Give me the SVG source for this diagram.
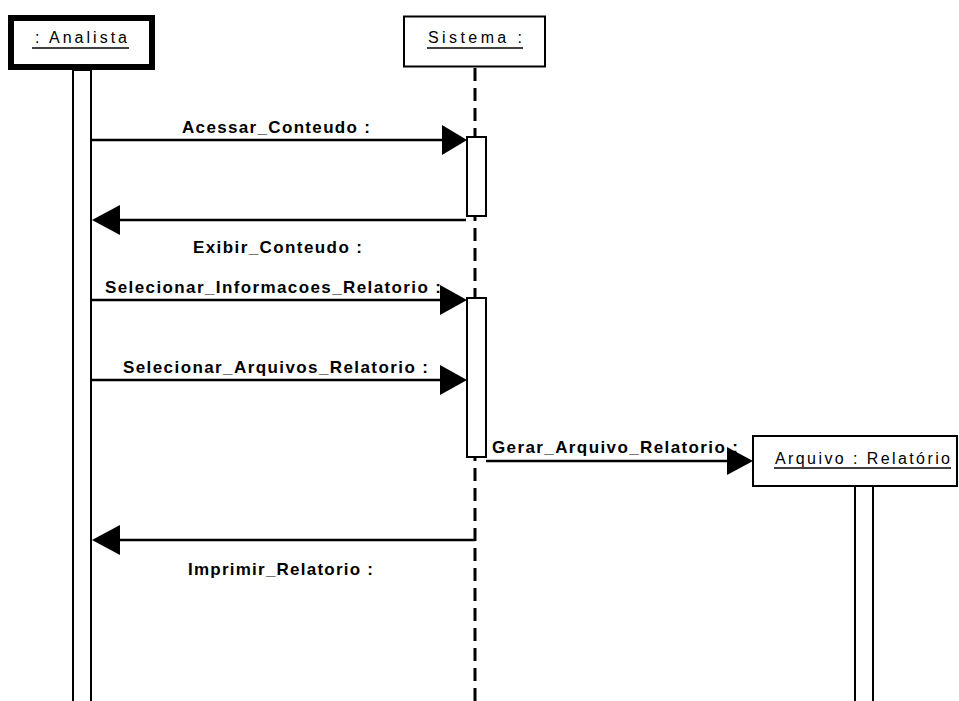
<svg xmlns="http://www.w3.org/2000/svg" width="959" height="701" viewBox="0 0 959 701">
  <style>
    .box { fill: #ffffff; stroke: #000000; stroke-width: 2; }
    .actor { fill: #ffffff; stroke: #000000; stroke-width: 6; }
    .bar { fill: #ffffff; stroke: #000000; stroke-width: 2; }
    .life { stroke: #000000; stroke-width: 3; stroke-dasharray: 13 7; fill: none; }
    .msg { stroke: #000000; stroke-width: 2.5; fill: none; }
    .head { fill: #000000; stroke: none; }
    .title { font-family: "Liberation Sans", Arial, sans-serif; font-size: 16px; fill: #000000; }
    .uline { stroke: #000000; stroke-width: 1.5; }
    .label { font-family: "Liberation Sans", Arial, sans-serif; font-size: 17px; font-weight: bold; fill: #000000; }
  </style>
  <rect width="959" height="701" fill="#ffffff"/>

  <!-- lifelines and activation bars -->
  <g id="lifelines">
    <line class="life" x1="475" y1="68" x2="475" y2="701"/>
    <rect class="bar" x="73" y="70" width="18" height="640"/>
    <rect class="bar" x="467" y="137" width="19" height="79"/>
    <rect class="bar" x="467" y="298" width="19" height="159"/>
    <rect class="bar" x="855" y="486" width="18" height="224"/>
  </g>

  <!-- objects -->
  <g id="analista">
    <rect class="actor" x="11" y="18" width="141" height="49"/>
    <text class="title" x="35" y="43" textLength="92" lengthAdjust="spacing">: Analista</text>
    <line class="uline" x1="32" y1="48" x2="129" y2="48"/>
  </g>
  <g id="sistema">
    <rect class="box" x="404" y="16.5" width="141" height="50"/>
    <text class="title" x="428" y="43" textLength="94" lengthAdjust="spacing">Sistema :</text>
    <line class="uline" x1="427" y1="48" x2="523" y2="48"/>
  </g>
  <g id="arquivo">
    <rect class="box" x="753" y="436" width="204" height="50"/>
    <text class="title" x="775" y="464" textLength="175" lengthAdjust="spacing">Arquivo : Relatório</text>
    <line class="uline" x1="774" y1="468" x2="951" y2="468"/>
  </g>

  <!-- message labels -->
  <g id="labels">
    <text class="label" x="182" y="133" textLength="188" lengthAdjust="spacing">Acessar_Conteudo :</text>
    <text class="label" x="193" y="253" textLength="169" lengthAdjust="spacing">Exibir_Conteudo :</text>
    <text class="label" x="105" y="293" textLength="336" lengthAdjust="spacing">Selecionar_Informacoes_Relatorio :</text>
    <text class="label" x="123" y="373" textLength="305" lengthAdjust="spacing">Selecionar_Arquivos_Relatorio :</text>
    <text class="label" x="492" y="453" textLength="246" lengthAdjust="spacing">Gerar_Arquivo_Relatorio :</text>
    <text class="label" x="188" y="575" textLength="185" lengthAdjust="spacing">Imprimir_Relatorio :</text>
  </g>

  <!-- messages -->
  <g id="connectors">
    <line class="msg" x1="91" y1="140" x2="445" y2="140"/>
    <path class="head" d="M467,140 L442,125 L442,155 Z"/>

    <line class="msg" x1="466" y1="220" x2="115" y2="220"/>
    <path class="head" d="M92,220 L120,205 L120,235 Z"/>

    <line class="msg" x1="91" y1="300" x2="445" y2="300"/>
    <path class="head" d="M467,300 L440,285 L440,315 Z"/>

    <line class="msg" x1="91" y1="380" x2="445" y2="380"/>
    <path class="head" d="M467,380 L440,365 L440,395 Z"/>

    <line class="msg" x1="486" y1="461" x2="730" y2="461"/>
    <path class="head" d="M753,461 L727,447 L727,475 Z"/>

    <line class="msg" x1="475" y1="540" x2="115" y2="540"/>
    <path class="head" d="M92,540 L120,525 L120,555 Z"/>
  </g>
</svg>
